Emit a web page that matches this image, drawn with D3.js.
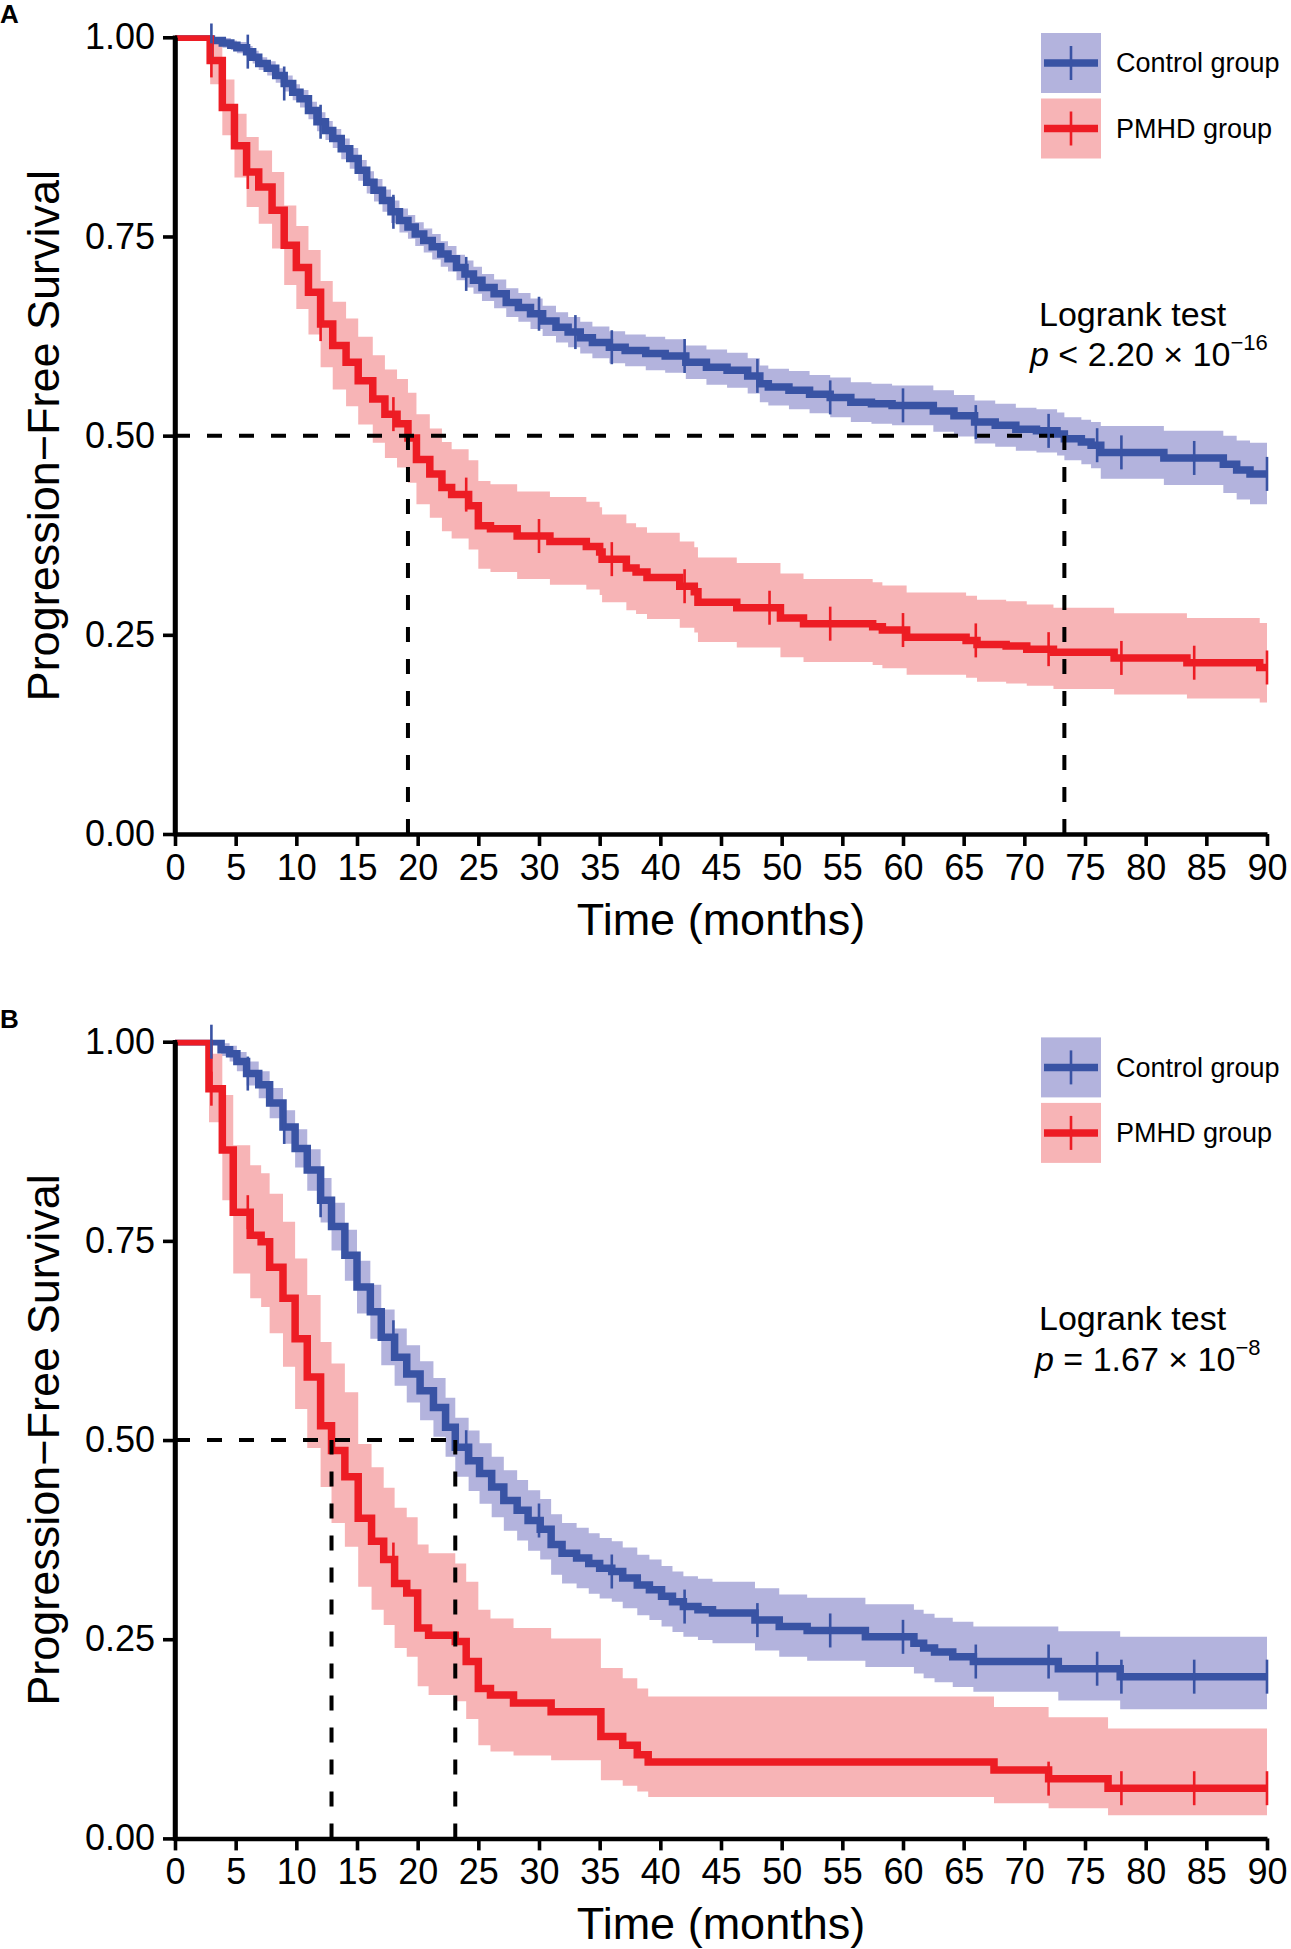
<!DOCTYPE html>
<html>
<head>
<meta charset="utf-8">
<script src="https://cdn.jsdelivr.net/npm/d3@7"></script>
<style>
  html, body { margin: 0; padding: 0; background: #fff; }
  svg { display: block; }
  text { font-family: "Liberation Sans", Arial, Helvetica, sans-serif; fill: #000; }
</style>
</head>
<body>
<svg id="chart" width="1291" height="1949"></svg>
<script>
// ---------------- DATA ----------------
const groupNames = ["Control group", "PMHD group"];
const timeTicks = [0, 5, 10, 15, 20, 25, 30, 35, 40, 45, 50, 55, 60, 65, 70, 75, 80, 85, 90];
const survTicks = [0, 0.25, 0.5, 0.75, 1];
const survTickLabels = ["0.00", "0.25", "0.50", "0.75", "1.00"];
const panelLabels = ["A", "B"];
const endTime = [90, 90];

// Panel A - Control group
const ctrlA_time  = [3.0,3.9,4.6,5.1,5.9,6.4,6.9,7.6,8.3,9.0,9.7,10.3,11.0,11.7,12.4,13.0,13.7,14.4,15.1,15.8,16.4,17.1,17.8,18.5,19.2,19.8,20.5,21.2,21.9,22.5,23.2,23.9,24.6,25.3,26.3,27.3,28.3,29.3,30.3,31.4,32.4,33.4,34.4,35.8,37.1,38.8,40.4,42.1,43.8,45.5,47.2,48.2,48.9,50.6,52.3,54.0,55.7,57.4,59.1,62.5,64.2,65.9,67.6,69.3,71.0,72.7,73.3,74.7,75.5,76.3,81.5,86.4,87.5,88.6];
const ctrlA_surv  = [.996,.993,.990,.987,.982,.975,.967,.961,.952,.942,.931,.923,.908,.894,.883,.873,.860,.848,.833,.818,.808,.795,.781,.770,.762,.753,.745,.737,.728,.722,.711,.703,.695,.686,.678,.667,.661,.653,.644,.636,.630,.623,.617,.611,.607,.603,.600,.592,.586,.582,.575,.565,.561,.557,.552,.548,.542,.540,.538,.531,.525,.517,.513,.508,.506,.502,.496,.492,.488,.479,.472,.464,.457,.452];
const ctrlA_lower = [.991,.987,.984,.980,.975,.967,.959,.952,.943,.932,.921,.912,.897,.882,.871,.861,.847,.835,.820,.804,.794,.781,.767,.755,.747,.738,.730,.721,.712,.706,.695,.686,.678,.669,.660,.649,.643,.634,.625,.617,.611,.603,.597,.591,.587,.582,.579,.571,.564,.560,.553,.542,.538,.533,.528,.523,.517,.515,.513,.505,.499,.490,.486,.481,.479,.475,.469,.464,.459,.446,.438,.428,.420,.414];
const ctrlA_upper = [1.000,.999,.996,.994,.989,.983,.975,.970,.961,.952,.941,.934,.919,.906,.895,.885,.873,.861,.846,.832,.822,.809,.795,.785,.777,.768,.760,.753,.744,.738,.727,.720,.712,.703,.696,.685,.679,.672,.663,.655,.649,.643,.637,.631,.627,.624,.621,.613,.608,.604,.597,.588,.584,.581,.576,.573,.567,.565,.563,.557,.551,.544,.540,.535,.533,.529,.523,.520,.517,.512,.506,.500,.494,.491];
const ctrlA_censor = [3,6,9,12,18,24,30,33,36,42,48,54,60,66,72,76,78,84,90];

// Panel A - PMHD group
const pmhdA_time  = [2.9,3.9,4.9,5.9,6.9,8.0,9.0,10.0,11.0,12.0,13.0,14.1,15.1,16.3,17.3,18.3,19.2,19.9,21.0,22.0,22.8,24.2,25.0,26.0,28.2,30.9,33.9,35.0,35.2,37.2,38.0,38.9,41.6,42.8,43.1,46.3,49.9,51.8,57.5,58.3,60.3,65.2,66.1,68.5,70.2,72.4,77.4,83.4,89.4];
const pmhdA_surv  = [.971,.912,.864,.831,.812,.783,.739,.711,.680,.640,.613,.592,.569,.546,.527,.515,.497,.470,.452,.435,.426,.412,.387,.383,.374,.367,.361,.354,.345,.334,.329,.322,.311,.304,.291,.284,.271,.264,.260,.256,.247,.243,.238,.236,.232,.228,.221,.215,.209];
const pmhdA_lower = [.941,.877,.824,.787,.766,.735,.689,.659,.627,.586,.558,.537,.514,.491,.472,.460,.441,.414,.397,.380,.371,.357,.333,.329,.320,.313,.307,.300,.291,.281,.276,.270,.259,.253,.241,.234,.222,.216,.212,.208,.200,.196,.191,.189,.186,.182,.175,.170,.165];
const pmhdA_upper = [1.000,.947,.904,.875,.858,.831,.789,.763,.733,.694,.668,.647,.624,.601,.583,.571,.554,.527,.509,.492,.483,.469,.443,.439,.430,.423,.417,.410,.401,.390,.385,.378,.367,.360,.347,.340,.327,.320,.316,.312,.303,.299,.294,.292,.288,.284,.277,.271,.265];
const pmhdA_censor = [3,6,12,18,24,30,36,42,49,54,60,66,72,78,84,90];

// Panel B - Control group
const ctrlB_time  = [3.8,4.5,5.1,5.9,6.9,7.8,8.9,9.9,10.9,12.0,12.9,14.0,15.0,16.1,17.0,18.1,19.1,20.2,21.3,22.3,23.1,24.2,25.1,26.1,27.1,28.2,29.1,30.1,31.0,31.9,33.1,34.1,35.0,36.0,36.9,38.1,39.1,40.1,41.0,41.9,43.1,44.3,47.8,49.8,52.1,56.9,60.9,61.7,62.6,64.1,65.8,72.8,77.9];
const ctrlB_surv  = [.990,.985,.975,.960,.946,.923,.893,.866,.839,.801,.768,.732,.692,.661,.629,.604,.583,.562,.541,.516,.491,.474,.458,.441,.424,.412,.399,.388,.369,.358,.352,.345,.339,.335,.327,.318,.312,.304,.297,.291,.287,.283,.274,.266,.261,.253,.245,.239,.234,.228,.222,.213,.203];
const ctrlB_lower = [.982,.975,.963,.945,.929,.904,.872,.842,.813,.773,.738,.700,.659,.627,.594,.568,.547,.525,.504,.479,.454,.436,.420,.403,.386,.374,.361,.350,.331,.320,.314,.307,.301,.297,.289,.280,.274,.266,.259,.253,.249,.245,.236,.228,.223,.215,.207,.201,.196,.190,.184,.173,.162];
const ctrlB_upper = [.998,.995,.987,.975,.963,.942,.914,.890,.865,.829,.798,.764,.725,.695,.664,.640,.619,.599,.578,.553,.528,.512,.496,.479,.462,.450,.437,.426,.407,.396,.390,.383,.377,.373,.365,.356,.350,.342,.335,.329,.326,.322,.314,.306,.302,.294,.287,.282,.277,.272,.266,.260,.253];
const ctrlB_censor = [3,6,9,12,18,24,30,36,42,48,54,60,66,72,76,78,84,90];

// Panel B - PMHD group
const pmhdB_time  = [2.8,3.9,4.8,6.2,7.1,7.8,8.9,9.9,10.9,12.0,12.9,14.0,15.1,16.2,17.2,18.1,19.1,20.0,20.9,23.1,24.0,25.0,26.0,27.9,31.0,35.1,36.9,38.1,39.0,67.5,72.0,76.9];
const pmhdB_surv  = [.941,.864,.786,.757,.749,.717,.678,.627,.579,.518,.487,.454,.402,.373,.350,.320,.308,.264,.255,.247,.222,.188,.180,.170,.159,.128,.117,.105,.096,.086,.075,.063];
const pmhdB_lower = [.899,.801,.709,.678,.667,.634,.592,.539,.490,.441,.396,.366,.316,.287,.268,.239,.228,.191,.180,.172,.150,.117,.109,.104,.098,.073,.066,.059,.052,.044,.038,.029];
const pmhdB_upper = [.985,.933,.870,.845,.835,.809,.774,.728,.682,.623,.596,.560,.495,.466,.440,.415,.403,.369,.358,.345,.322,.287,.276,.264,.251,.214,.201,.188,.178,.165,.152,.138];
const pmhdB_censor = [3,6,18,72,78,84,90];

const pValueMain = ["p < 2.20 × 10", "p = 1.67 × 10"];
const pValueExp = ["\u221216", "\u22128"];

// ---------------- STYLE ----------------
const lineColors = ["#3953A4", "#ED1C24"];
const bandColors = ["#B3B3DD", "#F7B4B6"];
const X0 = 175, X1 = 1267;
const panelTop = [37.3, 1041.7];
const panelBottom = [834, 1838.4];

const svg = d3.select("#chart");
const x = d3.scaleLinear().domain([0, 90]).range([X0, X1]);

const panels = [
  { curves: [
      { time: ctrlA_time, surv: ctrlA_surv, lo: ctrlA_lower, hi: ctrlA_upper, cens: ctrlA_censor },
      { time: pmhdA_time, surv: pmhdA_surv, lo: pmhdA_lower, hi: pmhdA_upper, cens: pmhdA_censor } ] },
  { curves: [
      { time: ctrlB_time, surv: ctrlB_surv, lo: ctrlB_lower, hi: ctrlB_upper, cens: ctrlB_censor },
      { time: pmhdB_time, surv: pmhdB_surv, lo: pmhdB_lower, hi: pmhdB_upper, cens: pmhdB_censor } ] }
];

function survAt(c, t) {
  const i = d3.bisectRight(c.time, t) - 1;
  return i < 0 ? 1 : c.surv[i];
}
function points(c, tEnd) {
  const pts = [{ t: 0, s: 1, lo: 1, hi: 1 }];
  c.time.forEach((t, i) => pts.push({ t: t, s: c.surv[i], lo: c.lo[i], hi: c.hi[i] }));
  const last = pts[pts.length - 1];
  pts.push({ t: tEnd, s: last.s, lo: last.lo, hi: last.hi });
  return pts;
}
function median(c) {
  const i = c.surv.findIndex(v => v <= 0.5);
  return c.time[i];
}

const defs = svg.append("defs");

panels.forEach((p, pi) => {
  const top = panelTop[pi], bottom = panelBottom[pi];
  const y = d3.scaleLinear().domain([0, 1]).range([bottom, top]);
  const g = svg.append("g");
  const tEnd = endTime[pi];

  const clipId = "clip" + pi;
  defs.append("clipPath").attr("id", clipId).append("rect")
    .attr("x", X0 - 2).attr("y", y(1) - 2).attr("width", X1 - X0 + 20).attr("height", bottom - top + 20);

  // panel letter
  g.append("text").attr("x", 0).attr("y", top - 14)
    .attr("font-size", 26).attr("font-weight", "bold").text(panelLabels[pi]);

  const plot = g.append("g").attr("clip-path", `url(#${clipId})`);

  // bands
  const area = d3.area().curve(d3.curveStepAfter)
    .x(d => x(d.t)).y0(d => y(d.lo)).y1(d => y(d.hi));
  p.curves.forEach((c, ci) => {
    plot.append("path").datum(points(c, tEnd))
      .attr("d", area).attr("fill", bandColors[ci]).attr("stroke", "none");
  });

  // median lines
  const meds = p.curves.map(median);
  const dash = "15,17";
  g.append("line").attr("x1", x(0)).attr("x2", x(d3.max(meds)))
    .attr("y1", y(0.5)).attr("y2", y(0.5))
    .attr("stroke", "#000").attr("stroke-width", 4).attr("stroke-dasharray", dash);
  meds.forEach(m => {
    g.append("line").attr("x1", x(m)).attr("x2", x(m))
      .attr("y1", y(0)).attr("y2", y(0.5))
      .attr("stroke", "#000").attr("stroke-width", 4).attr("stroke-dasharray", dash);
  });

  // survival lines
  const line = d3.line().curve(d3.curveStepAfter).x(d => x(d.t)).y(d => y(d.s));
  p.curves.forEach((c, ci) => {
    plot.append("path").datum(points(c, tEnd))
      .attr("d", line).attr("fill", "none")
      .attr("stroke", lineColors[ci]).attr("stroke-width", 7.5);
  });
  // censor marks
  p.curves.forEach((c, ci) => {
    g.selectAll(null).data(c.cens).enter().append("line")
      .attr("x1", d => x(d)).attr("x2", d => x(d))
      .attr("y1", d => y(survAt(c, d)) - 17).attr("y2", d => y(survAt(c, d)) + 17)
      .attr("stroke", lineColors[ci]).attr("stroke-width", 2.6);
  });

  // axes
  const yAxis = d3.axisLeft(y).tickValues(survTicks)
    .tickFormat((d, i) => survTickLabels[i]).tickSize(12).tickSizeOuter(0).tickPadding(8);
  const ya = g.append("g").attr("transform", `translate(${X0},0)`).call(yAxis);
  const xAxis = d3.axisBottom(x).tickValues(timeTicks)
    .tickFormat(d => String(d)).tickSize(12).tickSizeOuter(0).tickPadding(8);
  const xa = g.append("g").attr("transform", `translate(0,${bottom})`).call(xAxis);
  [ya, xa].forEach(a => {
    a.select(".domain").attr("stroke", "#000").attr("stroke-width", 4.5);
    a.selectAll(".tick line").attr("stroke", "#000").attr("stroke-width", 3.6);
    a.selectAll(".tick text").attr("font-size", 36)
      .attr("font-family", "'Liberation Sans', Arial, sans-serif").attr("fill", "#000");
  });
  g.append("line").attr("x1", X0).attr("x2", X0).attr("y1", top - 1.8).attr("y2", bottom + 2.25)
    .attr("stroke", "#000").attr("stroke-width", 4.5);

  // axis titles
  g.append("text").attr("x", (X0 + X1) / 2).attr("y", bottom + 101)
    .attr("text-anchor", "middle").attr("font-size", 45).text("Time (months)");
  g.append("text").attr("transform", `translate(59,${(top + bottom) / 2}) rotate(-90)`)
    .attr("text-anchor", "middle").attr("font-size", 45).text("Progression\u2212Free Survival");

  // legend
  groupNames.forEach((name, ci) => {
    const by = top - 4.3 + ci * 65.5;
    const lg = g.append("g");
    lg.append("rect").attr("x", 1041).attr("y", by).attr("width", 60).attr("height", 60)
      .attr("fill", bandColors[ci]);
    lg.append("line").attr("x1", 1044).attr("x2", 1098).attr("y1", by + 30).attr("y2", by + 30)
      .attr("stroke", lineColors[ci]).attr("stroke-width", 7.5);
    lg.append("line").attr("x1", 1071).attr("x2", 1071).attr("y1", by + 13).attr("y2", by + 47)
      .attr("stroke", lineColors[ci]).attr("stroke-width", 2.6);
    lg.append("text").attr("x", 1116).attr("y", by + 30).attr("dy", "0.35em")
      .attr("font-size", 27).text(name);
  });

  // logrank annotation
  g.append("text").attr("x", 1039).attr("y", top + 288.5).attr("font-size", 34).text("Logrank test");
  const pt = g.append("text").attr("x", pi === 0 ? 1030 : 1035).attr("y", top + 329).attr("font-size", 34);
  const parts = pValueMain[pi].split(/^p/);
  pt.append("tspan").attr("font-style", "italic").text("p");
  pt.append("tspan").text(parts[1]);
  pt.append("tspan").attr("font-size", 22).attr("dy", -16).text(pValueExp[pi]);
});
</script>
</body>
</html>
